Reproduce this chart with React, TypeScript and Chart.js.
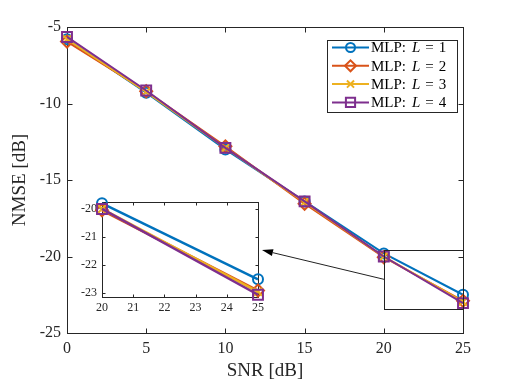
import React, { useEffect, useRef } from 'react';
import { Chart, registerables } from 'chart.js';
Chart.register(...registerables);

// ---- data ----
const SNR = [0, 5, 10, 15, 20, 25];
const NMSE_L1 = [-5.8, -9.3, -13.0, -16.4, -19.8, -22.5];
const NMSE_L2 = [-5.95, -9.2, -12.8, -16.55, -20.05, -22.9];
const NMSE_L3 = [-5.8, -9.25, -12.9, -16.45, -20.0, -22.95];
const NMSE_L4 = [-5.65, -9.15, -12.9, -16.4, -20.0, -23.05];
const SERIES = [NMSE_L1, NMSE_L2, NMSE_L3, NMSE_L4];
const SERIES_L = ['1', '2', '3', '4'];
const X_TICKS = [0, 5, 10, 15, 20, 25];
const Y_TICKS = [-25, -20, -15, -10, -5];
const INSET_X_TICKS = [20, 21, 22, 23, 24, 25];
const INSET_Y_TICKS = [-23, -22, -21, -20];
const INSET_X_RANGE = [20, 25];
const INSET_Y_RANGE = [-23.13, -19.76];
const ZOOM_BOX_Y = [-23.4, -19.6];
const ARROW_Y = -21.5;

// ---- styles ----
const COLORS = ['#0072BD', '#D95319', '#EDB120', '#7E2F8E'];
const MARKERS = ['circle', 'rectRot', 'crossRot', 'rect'];
const MARKER_R = [5, 6, 5.5, 7];
const LEGEND_MARKER_R = [4.5, 5.5, 5, 6.5];
const FONT = '"Liberation Serif", "Times New Roman", serif';
const AX = '#262626';
const INSET_POS = { left: 70, top: 190, w: 200, h: 130 };
const INSET_PAD = { top: 10, right: 12, yw: 32, xh: 23 };
const LEGEND = { x: 327, y: 40, w: 130, h: 72, rowH: 18.3, lineX0: 332, lineX1: 369, textX: 371 };

function drawMarker(ctx: CanvasRenderingContext2D, style: string, x: number, y: number, r: number) {
  ctx.beginPath();
  if (style === 'circle') {
    ctx.arc(x, y, r, 0, Math.PI * 2);
  } else if (style === 'rectRot') {
    ctx.moveTo(x - r, y); ctx.lineTo(x, y - r); ctx.lineTo(x + r, y); ctx.lineTo(x, y + r); ctx.closePath();
  } else if (style === 'crossRot') {
    const s = r * Math.SQRT1_2;
    ctx.moveTo(x - s, y - s); ctx.lineTo(x + s, y + s);
    ctx.moveTo(x - s, y + s); ctx.lineTo(x + s, y - s);
  } else {
    const s = r * Math.SQRT1_2;
    ctx.rect(x - s, y - s, 2 * s, 2 * s);
  }
  ctx.stroke();
}

function boxPlugin(tl: number) {
  return {
    id: 'box',
    beforeDatasetsDraw(chart: any) {
      const { ctx, chartArea } = chart;
      const { left, right, top, bottom } = chartArea;
      const L = Math.round(left) + 0.5, R = Math.round(right) + 0.5, T = Math.round(top) + 0.5, B = Math.round(bottom) + 0.5;
      ctx.save();
      ctx.strokeStyle = AX;
      ctx.lineWidth = 1;
      ctx.strokeRect(L, T, R - L, B - T);
      ctx.beginPath();
      chart.scales.x.ticks.forEach((t: any) => {
        const px = Math.round(chart.scales.x.getPixelForValue(t.value)) + 0.5;
        ctx.moveTo(px, B); ctx.lineTo(px, B - tl);
        ctx.moveTo(px, T); ctx.lineTo(px, T + tl);
      });
      chart.scales.y.ticks.forEach((t: any) => {
        const py = Math.round(chart.scales.y.getPixelForValue(t.value)) + 0.5;
        ctx.moveTo(L, py); ctx.lineTo(L + tl, py);
        ctx.moveTo(R, py); ctx.lineTo(R - tl, py);
      });
      ctx.stroke();
      ctx.restore();
    },
  };
}

const zoomPlugin = {
  id: 'zoombox',
  afterDatasetsDraw(chart: any) {
    const { ctx } = chart;
    const xs = chart.scales.x, ys = chart.scales.y;
    const x1 = Math.round(xs.getPixelForValue(INSET_X_RANGE[0])) + 0.5;
    const x2 = Math.round(xs.getPixelForValue(INSET_X_RANGE[1])) + 0.5;
    const y1 = Math.round(ys.getPixelForValue(ZOOM_BOX_Y[1])) + 0.5;
    const y2 = Math.round(ys.getPixelForValue(ZOOM_BOX_Y[0])) + 0.5;
    ctx.save();
    ctx.strokeStyle = '#222';
    ctx.lineWidth = 1;
    ctx.strokeRect(x1, y1, x2 - x1, y2 - y1);
    // arrow to inset
    const sx = x1, sy = ys.getPixelForValue(ARROW_Y);
    const insetTop = INSET_POS.top + INSET_PAD.top;
    const insetBottom = INSET_POS.top + INSET_POS.h - INSET_PAD.xh;
    const tx = INSET_POS.left + INSET_POS.w - INSET_PAD.right + 4;
    const ty = insetTop + (INSET_Y_RANGE[1] - ARROW_Y) / (INSET_Y_RANGE[1] - INSET_Y_RANGE[0]) * (insetBottom - insetTop);
    const ang = Math.atan2(ty - sy, tx - sx);
    const hl = 11, hw = 3.5;
    const bx = tx - hl * Math.cos(ang), by = ty - hl * Math.sin(ang);
    ctx.beginPath();
    ctx.moveTo(sx, sy); ctx.lineTo(bx, by);
    ctx.stroke();
    ctx.fillStyle = '#000';
    ctx.beginPath();
    ctx.moveTo(tx, ty);
    ctx.lineTo(bx + hw * Math.sin(ang), by - hw * Math.cos(ang));
    ctx.lineTo(bx - hw * Math.sin(ang), by + hw * Math.cos(ang));
    ctx.closePath();
    ctx.fill();
    ctx.restore();
  },
};

const legendPlugin = {
  id: 'customLegend',
  afterDraw(chart: any) {
    const { ctx } = chart;
    ctx.save();
    ctx.fillStyle = '#fff';
    ctx.fillRect(LEGEND.x, LEGEND.y, LEGEND.w, LEGEND.h);
    ctx.strokeStyle = AX;
    ctx.lineWidth = 1;
    ctx.strokeRect(LEGEND.x + 0.5, LEGEND.y + 0.5, LEGEND.w, LEGEND.h);
    SERIES_L.forEach((lab, i) => {
      const y = LEGEND.y + 7 + LEGEND.rowH * i + 0.5;
      ctx.strokeStyle = COLORS[i];
      ctx.lineWidth = 2;
      ctx.beginPath();
      ctx.moveTo(LEGEND.lineX0, y); ctx.lineTo(LEGEND.lineX1, y);
      ctx.stroke();
      drawMarker(ctx, MARKERS[i], (LEGEND.lineX0 + LEGEND.lineX1) / 2, y, LEGEND_MARKER_R[i]);
      ctx.fillStyle = '#000';
      ctx.textBaseline = 'middle';
      let x = LEGEND.textX;
      ctx.font = `15px ${FONT}`;
      ctx.fillText('MLP:', x, y + 1);
      x += ctx.measureText('MLP:').width + 6;
      ctx.font = `italic 15px ${FONT}`;
      ctx.fillText('L', x, y + 1);
      x += ctx.measureText('L').width + 5;
      ctx.font = `15px ${FONT}`;
      ctx.fillText('=', x, y + 1);
      x += ctx.measureText('=').width + 5;
      ctx.fillText(lab, x, y + 1);
    });
    ctx.restore();
  },
};

function makeDatasets(filterMin: number, bw: number) {
  return SERIES.map((vals, i) => ({
    label: 'MLP: L = ' + SERIES_L[i],
    data: SNR.map((x, j) => ({ x, y: vals[j] })).filter((p) => p.x >= filterMin),
    borderColor: COLORS[i],
    backgroundColor: 'rgba(0,0,0,0)',
    pointBackgroundColor: 'rgba(0,0,0,0)',
    pointBorderColor: COLORS[i],
    pointStyle: MARKERS[i],
    pointRadius: MARKER_R[i],
    pointBorderWidth: 2,
    borderWidth: bw,
    tension: 0,
    clip: false,
    order: SERIES.length - i,
  }));
}

export default function App() {
  const mainRef = useRef<HTMLCanvasElement>(null);
  const insetRef = useRef<HTMLCanvasElement>(null);

  useEffect(() => {
    const main = new Chart(mainRef.current as HTMLCanvasElement, {
      type: 'line',
      data: { datasets: makeDatasets(-Infinity, 2) as any },
      options: {
        animation: false,
        responsive: false,
        events: [],
        layout: { padding: { top: 27, right: 49, left: 0, bottom: 0 } },
        plugins: { legend: { display: false }, tooltip: { enabled: false } },
        scales: {
          x: {
            type: 'linear', min: 0, max: 25,
            afterBuildTicks: (s: any) => { s.ticks = X_TICKS.map((v) => ({ value: v })); },
            afterFit: (s: any) => { s.height = 51; },
            grid: { display: false, drawTicks: false },
            border: { display: false },
            ticks: { font: { family: FONT, size: 16 }, color: AX, padding: 6, maxRotation: 0, autoSkip: false, callback: (v: any) => String(v) },
            title: { display: true, text: 'SNR [dB]', font: { family: FONT, size: 19 }, color: AX, padding: { top: 0, bottom: 2 } },
          },
          y: {
            type: 'linear', min: -25, max: -5,
            afterBuildTicks: (s: any) => { s.ticks = Y_TICKS.map((v) => ({ value: v })); },
            afterFit: (s: any) => { s.width = 67; },
            grid: { display: false, drawTicks: false },
            border: { display: false },
            ticks: { font: { family: FONT, size: 16 }, color: AX, padding: 6, autoSkip: false, callback: (v: any) => String(v) },
            title: { display: true, text: 'NMSE [dB]', font: { family: FONT, size: 19 }, color: AX, padding: { top: 9, bottom: 0 } },
          },
        },
      },
      plugins: [boxPlugin(5), zoomPlugin, legendPlugin],
    } as any);

    const inset = new Chart(insetRef.current as HTMLCanvasElement, {
      type: 'line',
      data: { datasets: makeDatasets(INSET_X_RANGE[0], 2.5) as any },
      options: {
        animation: false,
        responsive: false,
        events: [],
        layout: { padding: { top: INSET_PAD.top, right: INSET_PAD.right, left: 0, bottom: 0 } },
        plugins: { legend: { display: false }, tooltip: { enabled: false } },
        scales: {
          x: {
            type: 'linear', min: INSET_X_RANGE[0], max: INSET_X_RANGE[1],
            afterBuildTicks: (s: any) => { s.ticks = INSET_X_TICKS.map((v) => ({ value: v })); },
            afterFit: (s: any) => { s.height = INSET_PAD.xh; },
            grid: { display: false, drawTicks: false },
            border: { display: false },
            ticks: { font: { family: FONT, size: 12 }, color: AX, padding: 4, maxRotation: 0, autoSkip: false, callback: (v: any) => String(v) },
          },
          y: {
            type: 'linear', min: INSET_Y_RANGE[0], max: INSET_Y_RANGE[1],
            afterBuildTicks: (s: any) => { s.ticks = INSET_Y_TICKS.map((v) => ({ value: v })); },
            afterFit: (s: any) => { s.width = INSET_PAD.yw; },
            grid: { display: false, drawTicks: false },
            border: { display: false },
            ticks: { font: { family: FONT, size: 12 }, color: AX, padding: 5, autoSkip: false, callback: (v: any) => String(v) },
          },
        },
      },
      plugins: [boxPlugin(3)],
    } as any);

    return () => { main.destroy(); inset.destroy(); };
  }, []);

  return (
    <div style={{ position: 'fixed', left: 0, top: 0, width: 512, height: 384, background: '#fff' }}>
      <canvas ref={mainRef} width={512} height={384} style={{ position: 'absolute', left: 0, top: 0 }} />
      <canvas ref={insetRef} width={INSET_POS.w} height={INSET_POS.h} style={{ position: 'absolute', left: INSET_POS.left, top: INSET_POS.top }} />
    </div>
  );
}
